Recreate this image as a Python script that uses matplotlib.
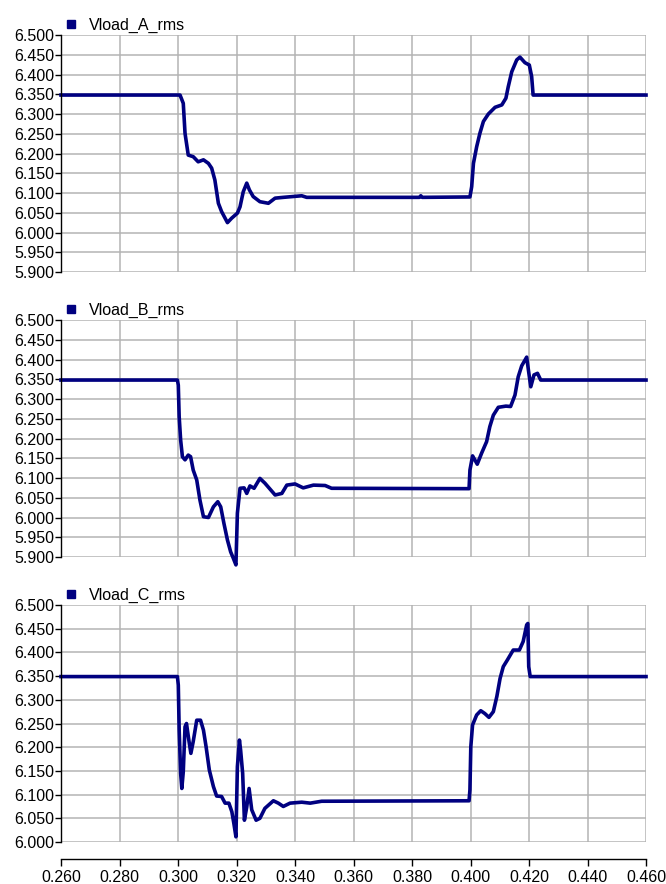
import numpy as np
import matplotlib.pyplot as plt
from matplotlib.lines import Line2D
from matplotlib.ticker import FormatStrFormatter, MultipleLocator

plt.rcParams['font.family'] = ['Liberation Sans', 'DejaVu Sans']

NAVY = '#000080'
GRID = '#b4b4b4'

# phase A rms load voltage
t_a = [0.260, 0.3007, 0.3018, 0.3024, 0.3035, 0.3052, 0.3069, 0.3087, 0.3104,
       0.3115, 0.3126, 0.3138, 0.3149, 0.3169, 0.3183, 0.3203, 0.3212, 0.3223,
       0.3235, 0.3244, 0.3257, 0.3280, 0.3309, 0.3332, 0.3360, 0.3423, 0.3440,
       0.3825, 0.3830, 0.3835, 0.3998, 0.4004, 0.4010, 0.4021, 0.4032, 0.4044,
       0.4061, 0.4084, 0.4107, 0.4121, 0.4129, 0.4141, 0.4158, 0.4169, 0.4186,
       0.4201, 0.4209, 0.4214, 0.460]
v_a = [6.348, 6.348, 6.327, 6.251, 6.196, 6.192, 6.179, 6.184, 6.175,
       6.163, 6.133, 6.074, 6.053, 6.025, 6.036, 6.049, 6.065, 6.103,
       6.125, 6.108, 6.091, 6.078, 6.074, 6.087, 6.089, 6.093, 6.089,
       6.089, 6.093, 6.089, 6.090, 6.116, 6.175, 6.217, 6.251, 6.281,
       6.300, 6.317, 6.323, 6.340, 6.369, 6.407, 6.437, 6.444, 6.430,
       6.424, 6.395, 6.348, 6.348]

# phase B rms load voltage
t_b = [0.260, 0.2998, 0.3001, 0.3004, 0.3009, 0.3015, 0.3024, 0.3035, 0.3043,
       0.3052, 0.3064, 0.3075, 0.3087, 0.3104, 0.3121, 0.3136, 0.3146, 0.3157,
       0.3169, 0.3180, 0.3189, 0.3198, 0.3203, 0.3212, 0.3226, 0.3235, 0.3246,
       0.3260, 0.3280, 0.3297, 0.3332, 0.3355, 0.3372, 0.3400, 0.3428, 0.3463,
       0.3503, 0.3525, 0.3995, 0.3998, 0.4007, 0.4023, 0.4038, 0.4055, 0.4066,
       0.4078, 0.4095, 0.4121, 0.4137, 0.4152, 0.4163, 0.4175, 0.4192, 0.4198,
       0.4206, 0.4217, 0.4229, 0.4240, 0.460]
v_b = [6.348, 6.348, 6.335, 6.255, 6.196, 6.154, 6.146, 6.158, 6.154,
       6.120, 6.095, 6.044, 6.002, 6.000, 6.027, 6.040, 6.027, 5.985,
       5.943, 5.913, 5.897, 5.880, 6.011, 6.074, 6.075, 6.061, 6.080,
       6.074, 6.099, 6.087, 6.057, 6.061, 6.082, 6.085, 6.075, 6.082,
       6.081, 6.074, 6.073, 6.120, 6.156, 6.135, 6.163, 6.192, 6.230,
       6.259, 6.279, 6.282, 6.281, 6.310, 6.356, 6.384, 6.406, 6.373,
       6.331, 6.361, 6.365, 6.348, 6.348]

# phase C rms load voltage
t_c = [0.260, 0.2998, 0.3001, 0.3004, 0.3009, 0.3013, 0.3018, 0.3024, 0.3029,
       0.3037, 0.3044, 0.3052, 0.3064, 0.3077, 0.3087, 0.3096, 0.3107, 0.3121,
       0.3132, 0.3149, 0.3161, 0.3174, 0.3184, 0.3191, 0.3198, 0.3203, 0.3210,
       0.3214, 0.3221, 0.3227, 0.3235, 0.3243, 0.3252, 0.3267, 0.3280, 0.3297,
       0.3326, 0.3343, 0.3360, 0.3383, 0.3423, 0.3452, 0.3491, 0.3995, 0.3998,
       0.4001, 0.4007, 0.4021, 0.4035, 0.4049, 0.4063, 0.4078, 0.4090, 0.4101,
       0.4112, 0.4126, 0.4146, 0.4167, 0.4180, 0.4192, 0.4196, 0.4199, 0.4204,
       0.460]
v_c = [6.349, 6.349, 6.331, 6.236, 6.145, 6.113, 6.148, 6.243, 6.250,
       6.215, 6.187, 6.212, 6.257, 6.257, 6.236, 6.201, 6.152, 6.117,
       6.097, 6.096, 6.082, 6.082, 6.064, 6.039, 6.011, 6.159, 6.215,
       6.194, 6.145, 6.046, 6.074, 6.113, 6.068, 6.046, 6.050, 6.071,
       6.087, 6.082, 6.075, 6.082, 6.084, 6.082, 6.086, 6.087, 6.110,
       6.201, 6.247, 6.268, 6.277, 6.271, 6.263, 6.275, 6.307, 6.345,
       6.370, 6.384, 6.405, 6.405, 6.423, 6.458, 6.461, 6.370, 6.349,
       6.349]

panels = [
    ('Vload_A_rms', t_a, v_a, 5.900),
    ('Vload_B_rms', t_b, v_b, 5.900),
    ('Vload_C_rms', t_c, v_c, 6.000),
]

fig = plt.figure(figsize=(6.66, 8.84), dpi=100)

left, width, height = 0.0916, 0.8784, 0.2681
bottoms = [0.6923, 0.3699, 0.0475]

for i, (name, t, v, ymin) in enumerate(panels):
    ax = fig.add_axes([left, bottoms[i], width, height])
    # the trace may dip a little under the axis floor, so don't clip it
    ax.plot(t, v, color=NAVY, lw=2.6, solid_joinstyle='round', clip_on=False)

    ax.set_xlim(0.260, 0.460)
    ax.set_ylim(ymin, 6.500)
    ax.xaxis.set_major_locator(MultipleLocator(0.02))
    ax.yaxis.set_major_locator(MultipleLocator(0.05))
    ax.yaxis.set_major_formatter(FormatStrFormatter('%.3f'))
    ax.grid(True, color=GRID, lw=1.1)
    ax.set_axisbelow(True)

    ax.spines['top'].set_visible(False)
    ax.spines['right'].set_visible(False)
    ax.spines['left'].set_linewidth(1.0)
    ax.tick_params(axis='y', direction='out', length=4, width=1.0,
                   labelsize=11.5, pad=1)

    if i < 2:
        ax.spines['bottom'].set_visible(False)
        ax.tick_params(axis='x', bottom=False, labelbottom=False)
    else:
        ax.spines['bottom'].set_position(('outward', 12))
        ax.spines['bottom'].set_linewidth(1.0)
        ax.xaxis.set_major_formatter(FormatStrFormatter('%.3f'))
        ax.tick_params(axis='x', direction='out', length=5, width=1.0,
                       labelsize=11.5, pad=3)

    handle = Line2D([], [], color=NAVY, marker='s', linestyle='none',
                    markersize=5.5)
    ax.legend([handle], [name], loc='lower left', bbox_to_anchor=(0.0, 1.0),
              frameon=False, fontsize=11.5, borderaxespad=0.05,
              handletextpad=0.6, handlelength=1.0, borderpad=0.1)

fig.savefig('out.png', dpi=100)
